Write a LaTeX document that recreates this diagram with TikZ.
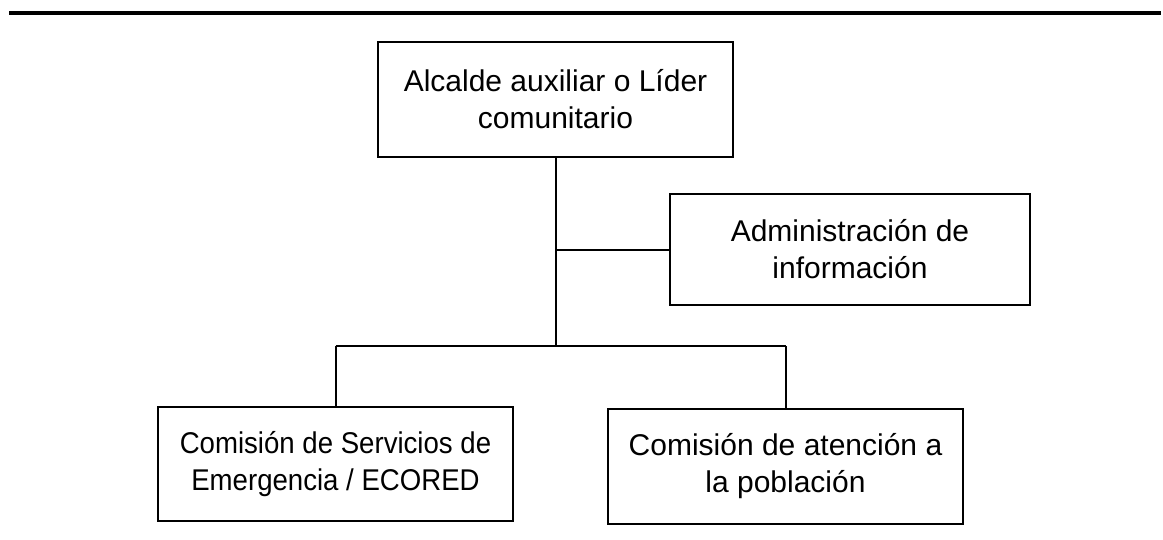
\documentclass[tikz,border=0pt]{standalone}
\usepackage{fontspec}
\setmainfont{Liberation Sans}
\newfontfamily\condsans[FakeStretch=0.92]{Liberation Sans}
\begin{document}
\begin{tikzpicture}[x=1pt,y=-1pt,
  orgbox/.style={draw,line width=2pt,rectangle,inner sep=0pt,align=center,
    minimum width=355pt,minimum height=115pt,font=\fontsize{30}{37}\selectfont},
  conn/.style={line width=2pt}]
\useasboundingbox (0,0) rectangle (1163,539);
\draw[line width=4pt] (9,13) -- (1161,13);
\node[orgbox] (top) at (555.5,99.5) {Alcalde auxiliar o Líder\\comunitario};
\node[orgbox,minimum width=360pt,minimum height=111pt] (info) at (850,249.5) {Administración de\\información};
\node[orgbox,minimum height=114pt,font=\condsans\fontsize{30}{37}\selectfont] (left) at (335.5,464) {Comisión de Servicios de\\Emergencia / ECORED};
\node[orgbox] (right) at (785.5,466.5) {Comisión de atención a\\la población};
\coordinate (j) at (555.5,346);
\draw[conn] (top.south) -- (j);
\draw[conn] (top.south |- info.west) -- (info.west);
\draw[conn] (left.north |- j) -- (right.north |- j);
\draw[conn] (left.north |- j) -- (left.north);
\draw[conn] (right.north |- j) -- (right.north);
\end{tikzpicture}
\end{document}
